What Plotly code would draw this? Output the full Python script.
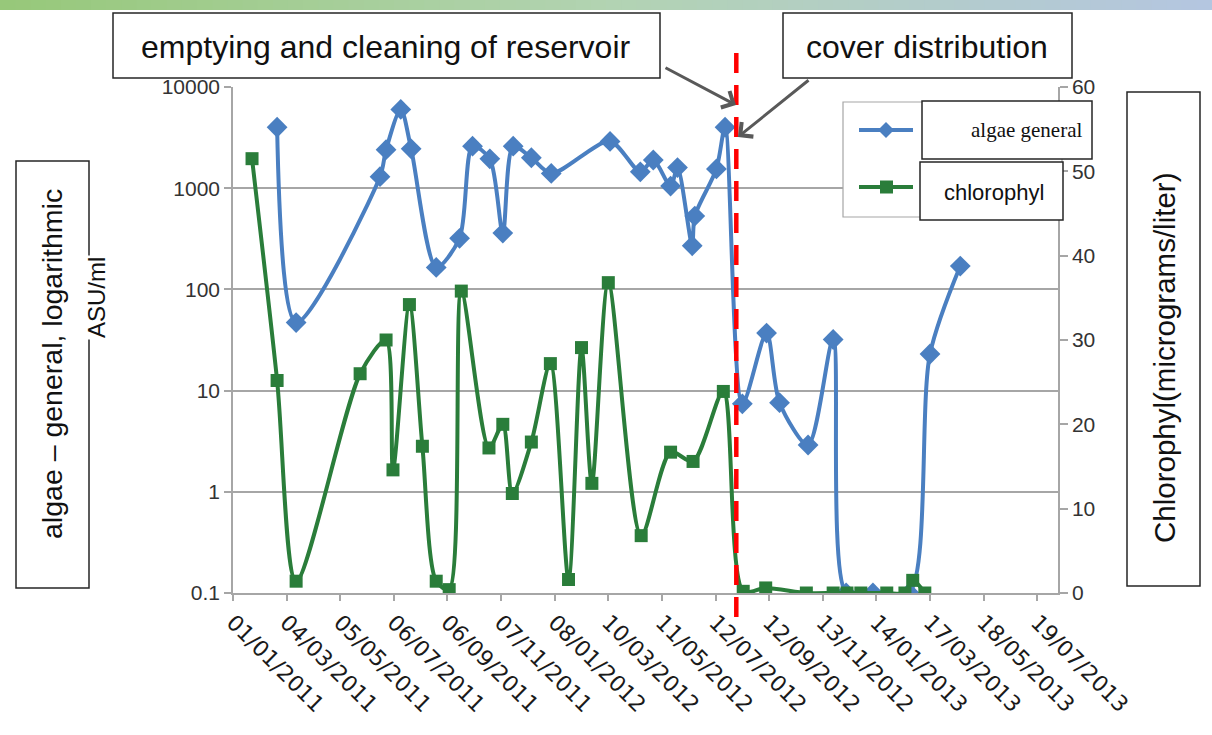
import plotly.graph_objects as go

# ---------------- data ----------------
algae_dates = ["2011-02-21", "2011-03-15", "2011-06-20", "2011-06-27", "2011-07-14", "2011-07-26",
               "2011-08-24", "2011-09-20", "2011-10-05", "2011-10-25", "2011-11-09", "2011-11-21",
               "2011-12-12", "2012-01-04", "2012-03-12", "2012-04-16", "2012-05-01", "2012-05-21",
               "2012-05-29", "2012-06-15", "2012-06-18", "2012-07-13", "2012-07-23", "2012-08-12",
               "2012-09-09", "2012-09-24", "2012-10-27", "2012-11-25", "2012-12-10", "2013-01-10",
               "2013-02-21", "2013-03-17", "2013-04-21"]
algae_vals = [4000, 47, 1300, 2400, 6000, 2450, 165, 320, 2600, 1950, 360, 2600, 2000, 1400,
              2900, 1450, 1900, 1050, 1600, 270, 530, 1550, 4000, 7.4, 37, 7.6, 2.9, 32,
              0.1, 0.1, 0.1, 23, 170]

chl_dates = ["2011-01-23", "2011-02-21", "2011-03-15", "2011-05-28", "2011-06-27", "2011-07-05",
             "2011-07-24", "2011-08-08", "2011-08-24", "2011-09-08", "2011-09-22", "2011-10-24",
             "2011-11-09", "2011-11-20", "2011-12-12", "2012-01-03", "2012-01-24", "2012-02-08",
             "2012-02-20", "2012-03-10", "2012-04-17", "2012-05-21", "2012-06-16", "2012-07-21",
             "2012-08-13", "2012-09-08", "2012-10-25", "2012-11-25", "2012-12-11", "2012-12-27",
             "2013-01-26", "2013-02-16", "2013-02-25", "2013-03-11"]
chl_vals = [51.5, 25.2, 1.4, 26, 30, 14.6, 34.2, 17.4, 1.4, 0.4, 35.8, 17.2, 20, 11.8, 17.9,
            27.2, 1.6, 29.1, 13, 36.8, 6.8, 16.7, 15.6, 23.9, 0.2, 0.6, 0, 0, 0, 0, 0, 0, 1.5, 0]

x_tick_dates = ["2011-01-01", "2011-03-04", "2011-05-05", "2011-07-06", "2011-09-06", "2011-11-07",
                "2012-01-08", "2012-03-10", "2012-05-11", "2012-07-12", "2012-09-12", "2012-11-13",
                "2013-01-14", "2013-03-17", "2013-05-18", "2013-07-19"]
x_tick_labels = ["01/01/2011", "04/03/2011", "05/05/2011", "06/07/2011", "06/09/2011", "07/11/2011",
                 "08/01/2012", "10/03/2012", "11/05/2012", "12/07/2012", "12/09/2012", "13/11/2012",
                 "14/01/2013", "17/03/2013", "18/05/2013", "19/07/2013"]
x_range = ["2011-01-01", "2013-08-12"]
event_date = "2012-08-05"

y_left_ticks = [0.1, 1, 10, 100, 1000, 10000]
y_left_labels = ["0.1", "1", "10", "100", "1000", "10000"]
y_right_ticks = [0, 10, 20, 30, 40, 50, 60]

# ---------------- geometry helpers ----------------
W, H = 1212, 735
L, R, T, B = 233, 1058, 87, 593


def px(x):
    return (x - L) / (R - L)


def py(y):
    return (B - y) / (B - T)


BLUE = "#4a7fc1"
GREEN = "#2a7d3a"

fig = go.Figure()
fig.add_trace(go.Scatter(
    x=algae_dates, y=algae_vals, mode="lines+markers", name="algae general",
    line=dict(color=BLUE, width=4, shape="spline", smoothing=0.8),
    marker=dict(symbol="diamond", size=16, color=BLUE),
    yaxis="y", showlegend=False))
fig.add_trace(go.Scatter(
    x=chl_dates, y=chl_vals, mode="lines+markers", name="chlorophyl",
    line=dict(color=GREEN, width=4, shape="spline", smoothing=0.8),
    marker=dict(symbol="square", size=13, color=GREEN),
    yaxis="y2", showlegend=False))

shapes = []
annotations = []

# top gradient strip
stops = [(0.0, (151, 200, 122)), (0.5, (178, 211, 178)), (1.0, (180, 198, 224))]


def grad(t):
    for (t0, c0), (t1, c1) in zip(stops[:-1], stops[1:]):
        if t0 <= t <= t1:
            f = (t - t0) / (t1 - t0)
            return "rgb(%d,%d,%d)" % tuple(round(a + (b - a) * f) for a, b in zip(c0, c1))
    return "rgb(%d,%d,%d)" % stops[-1][1]


N = 80
for i in range(N):
    x0 = W * i / N
    x1 = W * (i + 1) / N + 1
    shapes.append(dict(type="rect", xref="paper", yref="paper", x0=px(x0), x1=px(x1),
                       y0=py(10), y1=py(0), fillcolor=grad(i / (N - 1)), line=dict(width=0),
                       layer="below"))


def box(x0, y0, x1, y1, color="#262626", width=1.5):
    shapes.append(dict(type="rect", xref="paper", yref="paper", x0=px(x0), x1=px(x1),
                       y0=py(y1), y1=py(y0), fillcolor="white", line=dict(color=color, width=width),
                       layer="above"))


def text(x, y, s, size, family="Liberation Sans", angle=0, bg=None):
    a = dict(xref="paper", yref="paper", x=px(x), y=py(y), text=s, showarrow=False,
             font=dict(family=family, size=size, color="#111111"), textangle=angle,
             xanchor="center", yanchor="middle")
    if bg:
        a["bgcolor"] = bg
    annotations.append(a)


# red dashed event line
shapes.append(dict(type="line", xref="x", yref="paper", x0=event_date, x1=event_date,
                   y0=py(617), y1=py(45), line=dict(color="#ff0000", width=4.5, dash="20px,12px"),
                   layer="above"))

# annotation boxes at top
box(113, 13, 660, 78)
text(386, 47, "emptying and cleaning of reservoir", 32)
box(783, 13, 1072, 78)
text(927, 47, "cover distribution", 32)

# arrows
annotations.append(dict(xref="paper", yref="paper", x=px(736), y=py(105), ax=-72, ay=-38,
                        showarrow=True, arrowhead=4, arrowsize=1.2, arrowwidth=3,
                        arrowcolor="#595959", text=""))
annotations.append(dict(xref="paper", yref="paper", x=px(738), y=py(137), ax=72, ay=-58,
                        showarrow=True, arrowhead=4, arrowsize=1.2, arrowwidth=3,
                        arrowcolor="#595959", text=""))

# legend (hand drawn)
shapes.append(dict(type="rect", xref="paper", yref="paper", x0=px(843), x1=px(1062),
                   y0=py(217), y1=py(102), fillcolor="white", line=dict(color="#a6a6a6", width=1.2),
                   layer="above"))
shapes.append(dict(type="line", xref="paper", yref="paper", x0=px(859), x1=px(913),
                   y0=py(130), y1=py(130), line=dict(color=BLUE, width=4), layer="above"))
dx, dy = 8 / (R - L), 8 / (B - T)
cx, cy = px(886), py(130)
shapes.append(dict(type="path", xref="paper", yref="paper",
                   path=f"M {cx - dx},{cy} L {cx},{cy + dy} L {cx + dx},{cy} L {cx},{cy - dy} Z",
                   fillcolor=BLUE, line=dict(width=0), layer="above"))
shapes.append(dict(type="line", xref="paper", yref="paper", x0=px(859), x1=px(913),
                   y0=py(187), y1=py(187), line=dict(color=GREEN, width=4), layer="above"))
shapes.append(dict(type="rect", xref="paper", yref="paper", x0=px(880), x1=px(893),
                   y0=py(193.5), y1=py(180.5), fillcolor=GREEN, line=dict(width=0), layer="above"))
box(922, 101, 1092, 159)
text(1027, 130, "algae general", 21, family="Liberation Serif")
box(920, 162, 1063, 220)
text(994, 192, "chlorophyl", 22)

# axis title boxes
box(16, 161, 89, 588)
text(52, 364, "algae \u2013 general, logarithmic", 28.5, angle=-90)
text(96, 298, "ASU/ml", 24, angle=-90, bg="white")
box(1127, 92, 1200, 586)
text(1164, 358, "Chlorophyl(micrograms/liter)", 29.5, angle=-90)

AX = "#a6a6a6"
fig.update_layout(
    width=W, height=H,
    margin=dict(l=L, r=W - R, t=T, b=H - B, pad=0),
    paper_bgcolor="white", plot_bgcolor="white",
    xaxis=dict(type="date", range=x_range, tickmode="array", tickvals=x_tick_dates,
               ticktext=x_tick_labels, tickangle=45, ticks="outside", ticklen=6,
               tickcolor=AX, tickwidth=1.5, showline=True, linecolor=AX, linewidth=1.5,
               showgrid=False, zeroline=False,
               tickfont=dict(family="DejaVu Sans", size=22, color="#1a1a1a")),
    yaxis=dict(type="log", range=[-1, 4], tickmode="array", tickvals=y_left_ticks,
               ticktext=y_left_labels, showgrid=True, gridcolor=AX, gridwidth=1.5,
               showline=True, linecolor=AX, linewidth=1.5, ticks="outside", ticklen=7,
               tickcolor=AX, tickwidth=1.5, zeroline=False,
               tickfont=dict(family="Liberation Sans", size=21, color="#333333")),
    yaxis2=dict(overlaying="y", side="right", range=[0, 60], tickmode="array",
                tickvals=y_right_ticks, showgrid=False, showline=True, linecolor=AX,
                linewidth=1.5, ticks="outside", ticklen=8, tickcolor=AX, tickwidth=1.5,
                zeroline=False,
                tickfont=dict(family="Liberation Sans", size=21, color="#333333")),
    shapes=shapes, annotations=annotations,
)

fig.write_html("out.html", config={"displayModeBar": False},
               post_script="document.body.style.margin='0px';")
